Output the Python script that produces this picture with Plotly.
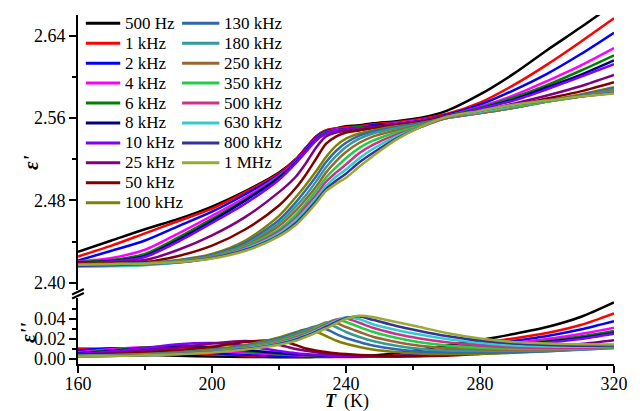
import plotly.graph_objects as go

# ---------------- data ----------------
T = [160, 170, 180, 190, 200, 210, 220, 225, 228, 231, 234, 237, 240, 244, 248, 255, 262, 270, 280, 290, 300, 310, 320]

freq_labels = ["500 Hz", "1 kHz", "2 kHz", "4 kHz", "6 kHz", "8 kHz", "10 kHz", "25 kHz", "50 kHz", "100 kHz",
               "130 kHz", "180 kHz", "250 kHz", "350 kHz", "500 kHz", "630 kHz", "800 kHz", "1 MHz"]

colors = ["#000000", "#FF0000", "#0000FF", "#FF00FF", "#008000", "#000080", "#8000FF", "#800080", "#800000", "#808000",
          "#3366AA", "#339999", "#996633", "#22CC44", "#CC3388", "#33CCCC", "#333399", "#9BAA35"]

# real permittivity eps'
e1_500Hz = [2.430, 2.441, 2.452, 2.462, 2.474, 2.489, 2.507, 2.520, 2.531, 2.542, 2.548, 2.550, 2.552, 2.553, 2.555, 2.557, 2.560, 2.567, 2.583, 2.603, 2.626, 2.648, 2.671]
e1_1k = [2.4255, 2.436, 2.448, 2.460, 2.472, 2.488, 2.506, 2.520, 2.531, 2.542, 2.548, 2.550, 2.551, 2.552, 2.554, 2.556, 2.559, 2.564, 2.575, 2.592, 2.612, 2.634, 2.657]
e1_2k = [2.4215, 2.431, 2.441, 2.455, 2.469, 2.486, 2.505, 2.519, 2.530, 2.541, 2.547, 2.549, 2.550, 2.551, 2.553, 2.555, 2.558, 2.563, 2.573, 2.587, 2.603, 2.622, 2.643]
e1_4k = [2.4205, 2.424, 2.432, 2.448, 2.465, 2.483, 2.504, 2.518, 2.529, 2.540, 2.546, 2.549, 2.550, 2.551, 2.552, 2.555, 2.558, 2.562, 2.571, 2.582, 2.596, 2.611, 2.628]
e1_6k = [2.420, 2.422, 2.428, 2.444, 2.462, 2.481, 2.503, 2.517, 2.528, 2.539, 2.546, 2.548, 2.550, 2.551, 2.552, 2.554, 2.557, 2.562, 2.570, 2.580, 2.592, 2.606, 2.621]
e1_8k = [2.4195, 2.421, 2.426, 2.442, 2.460, 2.480, 2.502, 2.517, 2.528, 2.539, 2.545, 2.548, 2.549, 2.550, 2.552, 2.554, 2.557, 2.561, 2.569, 2.578, 2.590, 2.602, 2.616]
e1_10k = [2.419, 2.4205, 2.425, 2.440, 2.458, 2.477, 2.500, 2.516, 2.527, 2.538, 2.545, 2.548, 2.549, 2.550, 2.551, 2.554, 2.557, 2.561, 2.569, 2.577, 2.588, 2.600, 2.6125]
e1_25k = [2.419, 2.420, 2.422, 2.432, 2.446, 2.464, 2.488, 2.503, 2.516, 2.531, 2.542, 2.546, 2.548, 2.549, 2.551, 2.554, 2.557, 2.562, 2.567, 2.574, 2.582, 2.591, 2.602]
e1_50k = [2.4185, 2.419, 2.420, 2.426, 2.436, 2.452, 2.475, 2.492, 2.505, 2.520, 2.535, 2.542, 2.546, 2.548, 2.550, 2.553, 2.556, 2.561, 2.566, 2.572, 2.579, 2.586, 2.595]
e1_100k = [2.418, 2.4185, 2.419, 2.422, 2.428, 2.441, 2.465, 2.483, 2.495, 2.508, 2.522, 2.533, 2.540, 2.545, 2.548, 2.552, 2.555, 2.560, 2.565, 2.570, 2.577, 2.583, 2.590]
e1_130k = [2.4175, 2.418, 2.4188, 2.4215, 2.427, 2.439, 2.461, 2.478, 2.490, 2.503, 2.517, 2.528, 2.536, 2.543, 2.547, 2.551, 2.555, 2.560, 2.565, 2.570, 2.576, 2.582, 2.589]
e1_180k = [2.417, 2.4175, 2.4185, 2.421, 2.426, 2.437, 2.458, 2.474, 2.485, 2.498, 2.512, 2.523, 2.532, 2.540, 2.545, 2.550, 2.554, 2.560, 2.565, 2.570, 2.576, 2.581, 2.588]
e1_250k = [2.4165, 2.417, 2.418, 2.4205, 2.4255, 2.436, 2.455, 2.470, 2.481, 2.493, 2.507, 2.518, 2.527, 2.536, 2.542, 2.548, 2.553, 2.560, 2.565, 2.570, 2.576, 2.581, 2.587]
e1_350k = [2.416, 2.4168, 2.4178, 2.420, 2.425, 2.435, 2.452, 2.466, 2.477, 2.489, 2.502, 2.512, 2.521, 2.531, 2.538, 2.546, 2.552, 2.560, 2.566, 2.571, 2.576, 2.581, 2.586]
e1_500k = [2.416, 2.4165, 2.4175, 2.4198, 2.4245, 2.434, 2.450, 2.463, 2.474, 2.485, 2.498, 2.507, 2.515, 2.526, 2.534, 2.544, 2.551, 2.560, 2.566, 2.572, 2.577, 2.581, 2.5855]
e1_630k = [2.4155, 2.416, 2.417, 2.4195, 2.424, 2.433, 2.448, 2.461, 2.471, 2.482, 2.494, 2.503, 2.510, 2.521, 2.530, 2.542, 2.551, 2.561, 2.566, 2.572, 2.577, 2.581, 2.585]
e1_800k = [2.4165, 2.417, 2.418, 2.4198, 2.424, 2.432, 2.446, 2.458, 2.468, 2.479, 2.491, 2.499, 2.506, 2.517, 2.526, 2.540, 2.551, 2.561, 2.567, 2.573, 2.577, 2.581, 2.5845]
e1_1M = [2.4175, 2.418, 2.4185, 2.420, 2.4235, 2.431, 2.445, 2.456, 2.466, 2.477, 2.489, 2.496, 2.502, 2.513, 2.523, 2.539, 2.551, 2.561, 2.567, 2.573, 2.577, 2.581, 2.584]

# imaginary permittivity eps''
e2_500Hz = [0.0065, 0.0055, 0.0042, 0.0032, 0.0025, 0.0020, 0.0018, 0.0018, 0.0018, 0.0019, 0.0020, 0.0022, 0.0025, 0.0030, 0.0036, 0.0058, 0.0092, 0.0135, 0.0190, 0.0250, 0.0320, 0.0420, 0.0566]
e2_1k = [0.0105, 0.0102, 0.0085, 0.0065, 0.0048, 0.0036, 0.0029, 0.0026, 0.0024, 0.0023, 0.0022, 0.0021, 0.0021, 0.0021, 0.0024, 0.0035, 0.0062, 0.0105, 0.0160, 0.0205, 0.0260, 0.0340, 0.0457]
e2_2k = [0.0085, 0.0108, 0.0100, 0.0080, 0.0060, 0.0043, 0.0032, 0.0028, 0.0026, 0.0025, 0.0024, 0.0023, 0.0022, 0.0022, 0.0023, 0.0030, 0.0052, 0.0090, 0.0135, 0.0180, 0.0230, 0.0295, 0.0378]
e2_4k = [0.0068, 0.0098, 0.0118, 0.0110, 0.0088, 0.0064, 0.0045, 0.0038, 0.0034, 0.0031, 0.0029, 0.0027, 0.0025, 0.0024, 0.0024, 0.0029, 0.0047, 0.0080, 0.0120, 0.0160, 0.0200, 0.0250, 0.0313]
e2_6k = [0.0060, 0.0088, 0.0115, 0.0125, 0.0108, 0.0078, 0.0052, 0.0043, 0.0038, 0.0034, 0.0031, 0.0028, 0.0026, 0.0023, 0.0022, 0.0027, 0.0043, 0.0072, 0.0110, 0.0145, 0.0180, 0.0225, 0.0280]
e2_8k = [0.0055, 0.0080, 0.0108, 0.0128, 0.0120, 0.0090, 0.0060, 0.0048, 0.0042, 0.0037, 0.0032, 0.0029, 0.0027, 0.0024, 0.0022, 0.0026, 0.0040, 0.0068, 0.0103, 0.0135, 0.0170, 0.0210, 0.0260]
e2_10k = [0.0050, 0.0075, 0.0110, 0.0148, 0.0160, 0.0130, 0.0080, 0.0058, 0.0049, 0.0042, 0.0036, 0.0031, 0.0028, 0.0025, 0.0023, 0.0025, 0.0038, 0.0065, 0.0098, 0.0130, 0.0163, 0.0200, 0.0253]
e2_25k = [0.0045, 0.0060, 0.0082, 0.0115, 0.0155, 0.0180, 0.0140, 0.0100, 0.0082, 0.0067, 0.0056, 0.0047, 0.0041, 0.0034, 0.0030, 0.0027, 0.0030, 0.0045, 0.0068, 0.0093, 0.0120, 0.0150, 0.0188]
e2_50k = [0.0040, 0.0050, 0.0065, 0.0088, 0.0122, 0.0170, 0.0185, 0.0140, 0.0105, 0.0085, 0.0070, 0.0058, 0.0049, 0.0040, 0.0034, 0.0029, 0.0027, 0.0032, 0.0050, 0.0070, 0.0090, 0.0110, 0.0140]
e2_100k = [0.0035, 0.0040, 0.0050, 0.0068, 0.0095, 0.0140, 0.0215, 0.0268, 0.0295, 0.0275, 0.0230, 0.0185, 0.0152, 0.0120, 0.0095, 0.0070, 0.0056, 0.0050, 0.0052, 0.0062, 0.0078, 0.0097, 0.0120]
e2_130k = [0.0033, 0.0038, 0.0047, 0.0064, 0.0090, 0.0133, 0.0205, 0.0258, 0.0295, 0.0325, 0.0300, 0.0252, 0.0210, 0.0170, 0.0135, 0.0097, 0.0076, 0.0066, 0.0064, 0.0068, 0.0078, 0.0093, 0.0110]
e2_180k = [0.0031, 0.0036, 0.0045, 0.0061, 0.0086, 0.0126, 0.0195, 0.0246, 0.0283, 0.0325, 0.0355, 0.0320, 0.0270, 0.0220, 0.0180, 0.0132, 0.0102, 0.0086, 0.0080, 0.0080, 0.0085, 0.0096, 0.0110]
e2_250k = [0.0030, 0.0035, 0.0043, 0.0058, 0.0082, 0.0120, 0.0185, 0.0235, 0.0272, 0.0318, 0.0365, 0.0360, 0.0320, 0.0270, 0.0222, 0.0170, 0.0132, 0.0110, 0.0096, 0.0091, 0.0094, 0.0102, 0.0115]
e2_350k = [0.0029, 0.0034, 0.0041, 0.0055, 0.0078, 0.0115, 0.0176, 0.0225, 0.0260, 0.0308, 0.0358, 0.0393, 0.0370, 0.0320, 0.0272, 0.0212, 0.0167, 0.0136, 0.0112, 0.0102, 0.0101, 0.0106, 0.0118]
e2_500k = [0.0028, 0.0033, 0.0040, 0.0053, 0.0074, 0.0110, 0.0166, 0.0212, 0.0250, 0.0295, 0.0345, 0.0393, 0.0405, 0.0362, 0.0312, 0.0250, 0.0205, 0.0167, 0.0136, 0.0117, 0.0110, 0.0112, 0.0123]
e2_630k = [0.0027, 0.0032, 0.0039, 0.0051, 0.0071, 0.0105, 0.0158, 0.0202, 0.0240, 0.0283, 0.0332, 0.0380, 0.0418, 0.0398, 0.0348, 0.0290, 0.0245, 0.0200, 0.0160, 0.0136, 0.0126, 0.0122, 0.0130]
e2_800k = [0.0026, 0.0031, 0.0038, 0.0050, 0.0068, 0.0100, 0.0150, 0.0192, 0.0230, 0.0272, 0.0320, 0.0368, 0.0410, 0.0425, 0.0392, 0.0330, 0.0280, 0.0230, 0.0185, 0.0156, 0.0141, 0.0133, 0.0135]
e2_1M = [0.0025, 0.0030, 0.0037, 0.0048, 0.0065, 0.0095, 0.0142, 0.0182, 0.0220, 0.0262, 0.0305, 0.0355, 0.0400, 0.0433, 0.0420, 0.0370, 0.0320, 0.0260, 0.0205, 0.0170, 0.0155, 0.0148, 0.0145]

eps_real = [e1_500Hz, e1_1k, e1_2k, e1_4k, e1_6k, e1_8k, e1_10k, e1_25k, e1_50k, e1_100k,
            e1_130k, e1_180k, e1_250k, e1_350k, e1_500k, e1_630k, e1_800k, e1_1M]
eps_imag = [e2_500Hz, e2_1k, e2_2k, e2_4k, e2_6k, e2_8k, e2_10k, e2_25k, e2_50k, e2_100k,
            e2_130k, e2_180k, e2_250k, e2_350k, e2_500k, e2_630k, e2_800k, e2_1M]

# ---------------- figure ----------------
W, H = 640, 411
ML, MR, MT, MB = 78, 16, 15, 47
PW, PH = W - ML - MR, H - MT - MB
FONT = "Liberation Serif"


def px_x(x):
    return (x - ML) / PW


def px_y(y):
    return (H - MB - y) / PH


fig = go.Figure()
for lab, col, e1 in zip(freq_labels, colors, eps_real):
    fig.add_trace(go.Scatter(x=T, y=e1, mode="lines", name=lab, xaxis="x2", yaxis="y2",
                             line=dict(color=col, width=2.5, shape="spline", smoothing=0.8),
                             showlegend=False))
for lab, col, e2 in zip(freq_labels, colors, eps_imag):
    fig.add_trace(go.Scatter(x=T, y=e2, mode="lines", name=lab, xaxis="x", yaxis="y",
                             line=dict(color=col, width=2.5, shape="spline", smoothing=0.8),
                             showlegend=False))

axis_common = dict(showline=True, linewidth=2, linecolor="black", showgrid=False, zeroline=False,
                   ticks="outside", ticklen=7, tickwidth=1.5, tickcolor="black",
                   tickfont=dict(family=FONT, size=18, color="black"))

fig.update_layout(
    width=W, height=H, margin=dict(l=ML, r=MR, t=MT, b=MB),
    paper_bgcolor="white", plot_bgcolor="white",
    showlegend=False,
    xaxis=dict(domain=[0, 1], anchor="y", range=[160, 320], tickvals=[160, 200, 240, 280, 320],
               ticklabelstandoff=-5,
               minor=dict(tickvals=[180, 220, 260, 300], ticks="outside", ticklen=4, tickwidth=1.5, tickcolor="black"),
               **axis_common),
    yaxis=dict(domain=[0, px_y(298)], anchor="x", range=[-0.005, 0.061], tickvals=[0.0, 0.02, 0.04],
               tickformat=".2f",
               minor=dict(tickvals=[0.01, 0.03, 0.05], ticks="outside", ticklen=4, tickwidth=1.5, tickcolor="black"),
               **axis_common),
    xaxis2=dict(domain=[0, 1], anchor="y2", range=[160, 320], visible=False),
    yaxis2=dict(domain=[px_y(290), 1], anchor="x2", range=[2.3929, 2.6602], tickvals=[2.40, 2.48, 2.56, 2.64],
                tickformat=".2f",
                minor=dict(tickvals=[2.44, 2.52, 2.60], ticks="outside", ticklen=4, tickwidth=1.5, tickcolor="black"),
                **axis_common),
)

shapes = []
annotations = []
# axis break marks
for (x0, y0, x1, y1) in [(72, 294.5, 84, 289), (72, 298.5, 84, 293)]:
    shapes.append(dict(type="line", xref="paper", yref="paper", x0=px_x(x0), y0=px_y(y0),
                       x1=px_x(x1), y1=px_y(y1), line=dict(color="black", width=2)))

# legend (two columns)
for i, (lab, col) in enumerate(zip(freq_labels, colors)):
    c, r = divmod(i, 10)
    yy = 23.3 + 19.93 * r
    lx0, lx1, tx = (86, 121, 124) if c == 0 else (184, 222, 225)
    shapes.append(dict(type="line", xref="paper", yref="paper", x0=px_x(lx0), x1=px_x(lx1),
                       y0=px_y(yy), y1=px_y(yy), line=dict(color=col, width=3)))
    annotations.append(dict(text=lab, xref="paper", yref="paper", x=px_x(tx), y=px_y(yy),
                            xanchor="left", yanchor="middle", showarrow=False,
                            font=dict(family=FONT, size=17, color="black")))

# axis titles
annotations.append(dict(text="<b><i>ε'</i></b>", xref="paper", yref="paper", x=px_x(30), y=px_y(162),
                        textangle=-90, showarrow=False, xanchor="center", yanchor="middle",
                        font=dict(family=FONT, size=21, color="black")))
annotations.append(dict(text="<b><i>ε''</i></b>", xref="paper", yref="paper", x=px_x(27), y=px_y(333),
                        textangle=-90, showarrow=False, xanchor="center", yanchor="middle",
                        font=dict(family=FONT, size=21, color="black")))
annotations.append(dict(text="<b><i>T</i></b>", xref="paper", yref="paper", x=px_x(343), y=px_y(401.5),
                        showarrow=False, xanchor="right", yanchor="middle", borderpad=0,
                        font=dict(family=FONT, size=18, color="black")))
annotations.append(dict(text="(K)", xref="paper", yref="paper", x=px_x(348), y=px_y(401.5),
                        showarrow=False, xanchor="left", yanchor="middle", borderpad=0,
                        font=dict(family=FONT, size=18, color="black")))

fig.update_layout(shapes=shapes, annotations=annotations)
fig.write_html("out.html")
